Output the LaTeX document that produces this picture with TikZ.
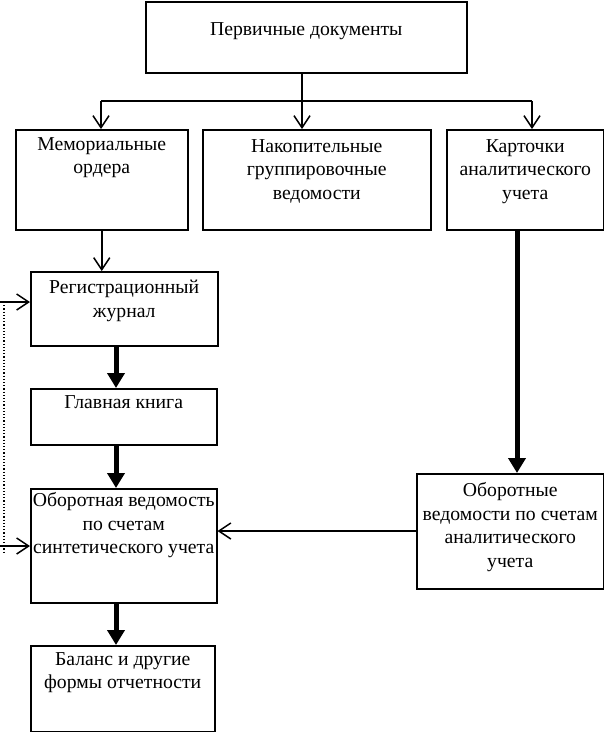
\documentclass[tikz,border=0pt]{standalone}
\usepackage{fontspec}
\setmainfont{Liberation Serif}
\usetikzlibrary{arrows.meta}
\begin{document}
\begin{tikzpicture}[x=1pt,y=-1pt,
  box/.style={draw, line width=1.5pt, inner sep=0pt, anchor=north west},
  lbl/.style={anchor=north, inner sep=0pt, align=center, font=\fontsize{19.7}{23.7}\selectfont},
  thinarrow/.style={line width=1.5pt, -{Straight Barb[length=12pt,width=16pt,line width=1.5pt]}},
  thickarrow/.style={line width=5pt, -{Triangle[length=15pt,width=17pt]}},
  dotline/.style={line width=1.2pt, dotted}
]
\useasboundingbox (0,0) rectangle (604,732);

% boxes
\node[box, minimum width=321pt, minimum height=71pt] (top) at (145,1) {};
\node[box, minimum width=172pt, minimum height=100pt] (mem) at (15,129) {};
\node[box, minimum width=228pt, minimum height=100pt] (nak) at (202,129) {};
\node[box, minimum width=157pt, minimum height=100pt] (kart) at (446,129) {};
\node[box, minimum width=187pt, minimum height=74pt] (reg) at (30,271) {};
\node[box, minimum width=186pt, minimum height=56pt] (glav) at (30,388) {};
\node[box, minimum width=186pt, minimum height=114pt] (obor) at (30,488) {};
\node[box, minimum width=184pt, minimum height=86pt] (bal) at (30,645) {};
\node[box, minimum width=187pt, minimum height=115pt] (obar) at (416,473) {};

% labels
\node[lbl] (ttop) at ([yshift=-21pt]top.north) {Первичные документы};
\node[lbl] (tmem) at ([yshift=-8pt]mem.north) {Мемориальные\\ордера};
\node[lbl] (tnak) at ([yshift=-10pt]nak.north) {Накопительные\\группировочные\\ведомости};
\node[lbl] (tkart) at ([yshift=-10pt]kart.north) {Карточки\\аналитического\\учета};
\node[lbl] (treg) at ([yshift=-9pt]reg.north) {Регистрационный\\журнал};
\node[lbl] (tglav) at ([yshift=-7pt]glav.north) {Главная книга};
\node[lbl] (tobor) at ([yshift=-4pt]obor.north) {Оборотная ведомость\\по счетам\\синтетического учета};
\node[lbl] (tbal) at ([yshift=-7pt]bal.north) {Баланс и другие\\формы отчетности};
\node[lbl] (tobar) at ([yshift=-9pt]obar.north) {Оборотные\\ведомости по счетам\\аналитического\\учета};

% connectors from top
\coordinate (jl) at (101,101);
\coordinate (jm) at (302,101);
\coordinate (jr) at (532,101);
\draw[line width=1.5pt] (jm |- top.south) -- (jm);
\draw[line width=1.5pt] (jl) -- (jr);
\draw[thinarrow] (jl) -- (jl |- mem.north);
\draw[thinarrow] (jm) -- (jm |- nak.north);
\draw[thinarrow] (jr) -- (jr |- kart.north);

% left column
\draw[thinarrow] (mem.south) -- (mem.south |- reg.north);
\coordinate (cx) at (116,0);
\draw[thickarrow] (cx |- reg.south) -- (cx |- glav.north);
\draw[thickarrow] (cx |- glav.south) -- (cx |- obor.north);
\draw[thickarrow] (cx |- obor.south) -- (cx |- bal.north);

% right column
\coordinate (rx) at (517,0);
\draw[thickarrow] (rx |- kart.south) -- (rx |- obar.north);
\coordinate (hy) at (0,531);
\draw[thinarrow] (obar.west |- hy) -- (obor.east |- hy);

% dotted loop
\coordinate (d1) at (4,302);
\coordinate (d2) at (4,553);
\coordinate (e1) at (0,302);
\coordinate (e2) at (0,546);
\draw[dotline] (d1) -- (d2);
\draw[thinarrow] (e1) -- (e1 -| reg.west);
\draw[thinarrow] (e2) -- (e2 -| obor.west);
\end{tikzpicture}
\end{document}
